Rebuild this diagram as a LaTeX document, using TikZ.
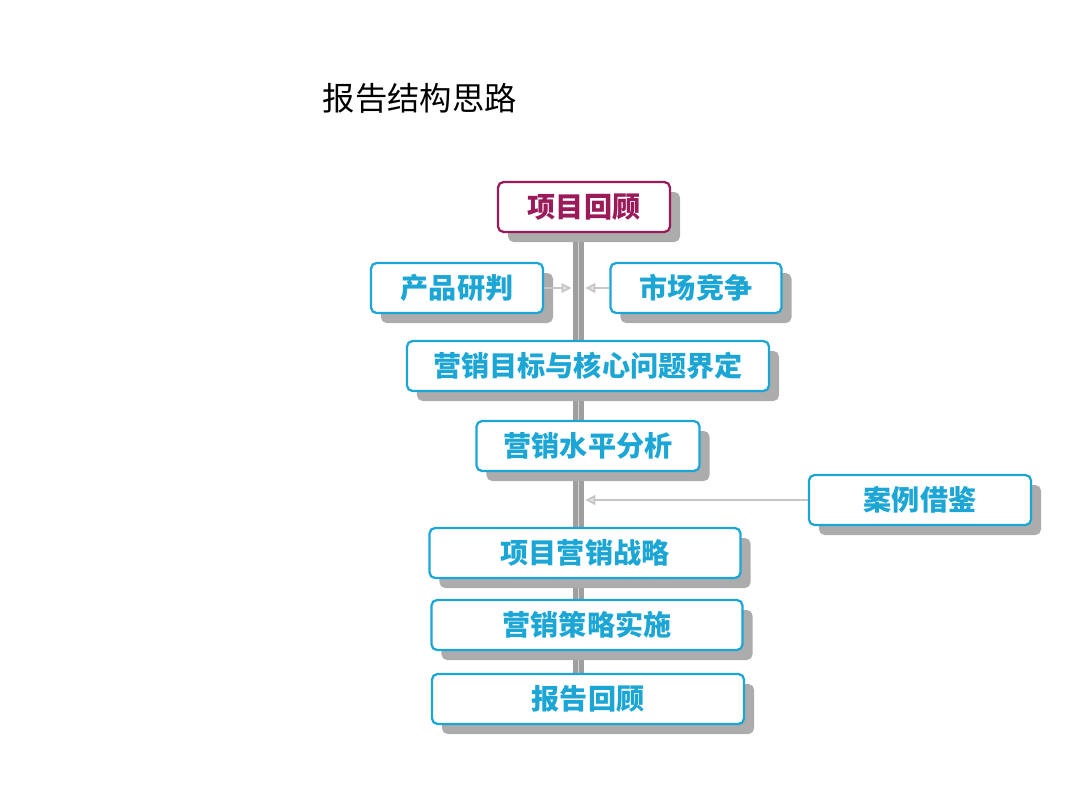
\documentclass[tikz,border=0pt]{standalone}
\usepackage{fontspec}
\setmainfont{Noto Sans CJK SC}
\usetikzlibrary{arrows.meta,shadows,backgrounds}
\definecolor{boxblue}{HTML}{1BA6D6}
\definecolor{boxred}{HTML}{9B1B5A}
\begin{document}
\begin{tikzpicture}[x=0.025cm,y=-0.025cm
	,font=\bfseries\fontsize{20}{24}\selectfont
	,feed/.style={draw=gray!45,line width=1.2pt,-{Triangle[length=7pt,width=7pt,fill=gray!25]}}]
  \tikzset{box/.style={draw=boxblue,line width=1.6pt,rounded corners=4pt,
      fill=white,text=boxblue,minimum height=1.25cm,inner sep=0pt,
      drop shadow={shadow xshift=.25cm,shadow yshift=-.25cm,fill=gray!65,opacity=1}}}
  \useasboundingbox (0,0) rectangle (1080,810);

  % title
  \node[anchor=west,font=\fontsize{23}{28}\selectfont] (title) at (318,98) {报告结构思路};

  % boxes
  \node[box,draw=boxred,text=boxred,minimum width=4.3cm] (review) at (584,207) {项目回顾};
  \node[box,minimum width=4.3cm] (product) at (457,288) {产品研判};
  \node[box,minimum width=4.275cm] (market) at (696,288) {市场竞争};
  \node[box,minimum width=9.05cm] (goal) at (588,366) {营销目标与核心问题界定};
  \node[box,minimum width=5.575cm] (level) at (588,446) {营销水平分析};
  \node[box,minimum width=5.55cm] (cases) at (920,500) {案例借鉴};
  \node[box,minimum width=7.775cm] (strategy) at (585,553) {项目营销战略};
  \node[box,minimum width=7.775cm] (tactics) at (587,625) {营销策略实施};
  \node[box,minimum width=7.8cm] (report) at (588,699) {报告回顾};

  % spine and feeds
  \begin{scope}[on background layer]
    \draw[gray!75,line width=3.5pt,double=gray!35,double distance=0.8pt]
      ([xshift=-4pt]review.south) -- ([xshift=-4pt]review.south |- report.north);
  \end{scope}
  \draw[feed] (product.east) -- ([xshift=-9pt]review.south |- product.east);
  \draw[feed] (market.west) -- ([xshift=1pt]review.south |- market.west);
  \draw[feed] (cases.west) -- ([xshift=1pt]review.south |- cases.west);
\end{tikzpicture}
\end{document}
